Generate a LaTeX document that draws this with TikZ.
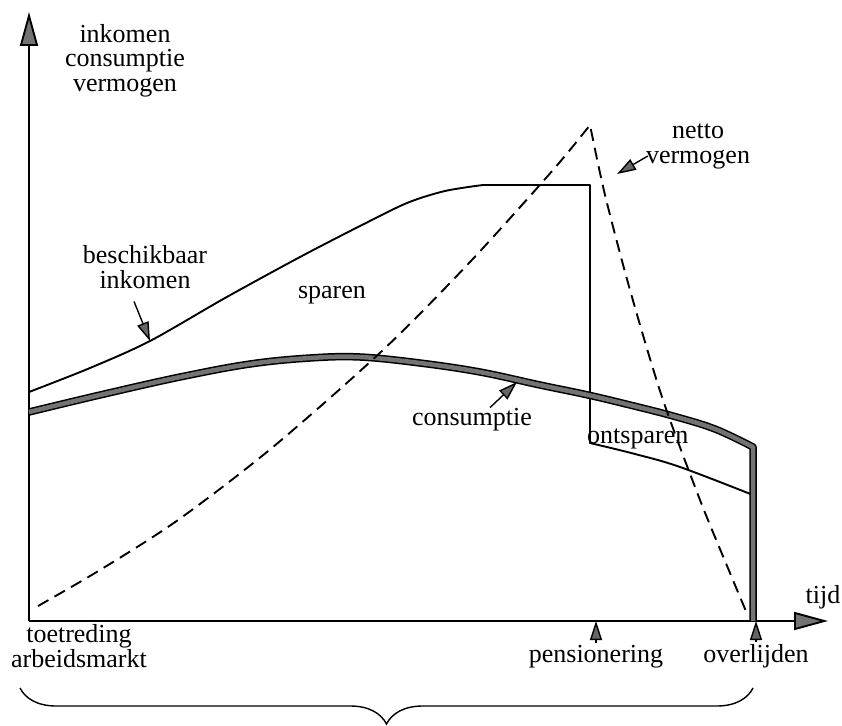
\documentclass[tikz,border=0pt]{standalone}
\usepackage{fontspec}
\setmainfont{Liberation Serif}
\usetikzlibrary{arrows.meta, calc, positioning, decorations.pathreplacing}

\begin{document}
\begin{tikzpicture}[x=1pt, y=-1pt,
    lbl/.style={align=center, inner sep=0pt, font=\fontsize{26}{24.5}\selectfont},
    curve/.style={line width=1.9pt, line join=round},
    pointer/.style={line width=1.4pt, -{Triangle[length=19pt, width=12pt, fill=black!60]}},
    axisarrow/.style={line width=1.9pt, -{Triangle[length=34pt, width=18pt, fill=black!55]}},
    consline/.style={line width=1.5pt, double=black!55, double distance=4.5pt, line join=round}]
    \useasboundingbox (0,0) rectangle (842,725);

    \coordinate (origin) at (29,621);
    \coordinate (ytop) at (29,12);
    \coordinate (xend) at (828,621);
    \coordinate (retire) at (590,443);
    \coordinate (death) at (753,447);
    \coordinate (deathaxis) at (753,621);

%% labels (base = last line)
    \node[lbl, anchor=base] (ylbl) at (125,91) {inkomen\\consumptie\\vermogen};
    \node[lbl, anchor=base] (tijd) at (823,603) {tijd};
    \node[lbl, anchor=base] (bi) at (145,288) {beschikbaar\\inkomen};
    \node[lbl, anchor=base] (sparen) at (332,298) {sparen};
    \node[lbl, anchor=base] (cons) at (472,425) {consumptie};
    \node[lbl, anchor=base west] (ontsp) at (587,443) {ontsparen};
    \node[lbl, anchor=base] (nv) at (698,163) {netto\\vermogen};
    \node[lbl, anchor=base] (toetr) at (79,667) {toetreding\\arbeidsmarkt};
    \node[lbl, anchor=base] (pens) at (596,662) {pensionering};
    \node[lbl, anchor=base] (overl) at (756,662) {overlijden};

%% axes
    \draw[axisarrow] (origin) -- (ytop);
    \draw[axisarrow] (origin) -- (xend);

%% beschikbaar inkomen
    \draw[curve] plot[smooth, tension=0.5] coordinates {(29,392) (90,368) (150,341) (225,298) (300,257) (360,226) (407,203) (445,191) (483,185)}
        -- (590,185) -- (retire)
        -- plot[smooth, tension=0.6] coordinates {(retire) (635,454) (680,467) (death |- 0,495)};

%% consumptie
    \draw[consline] plot[smooth, tension=0.6] coordinates {(29,412) (100,395) (180,377) (250,364) (310,358) (360,357) (420,363) (480,372) (540,385) (588,395) (630,405) (673,416) (715,429) (death)}
        -- (deathaxis);

%% netto vermogen
    \draw[line width=1.9pt, dash pattern=on 12pt off 7pt] plot[smooth, tension=0.5] coordinates {(38,606) (100,570) (178,520) (273,447) (383,350) (470,262) (553,170) (590,125)}
        -- plot[smooth, tension=0.5] coordinates {(590,125) (605,195) (630,290) (662,397) (700,500) (730,573) (748,616)};

%% pointers
    \coordinate (bitip) at (150,341);
    \coordinate (constip) at (517,382);
    \coordinate (nvtip) at (617,174);
    \draw[pointer] ($(bi.south) + (-11,13)$) -- (bitip);
    \draw[pointer] ($(cons.north) + (18,0)$) -- (constip);
    \draw[pointer] ($(nv.base west) + (2,-7)$) -- (nvtip);
    \draw[pointer] ($(pens.north) + (0,-2)$) -- (pens.north |- origin);
    \draw[pointer] ($(overl.north) + (0,-2)$) -- (overl.north |- origin);

%% brace
    \coordinate (bl) at (20,688);
    \coordinate (br) at (753,688);
    \draw[line width=1.4pt, decorate, decoration={brace, mirror, amplitude=36pt}] (bl) -- (br);

\end{tikzpicture}
\end{document}
